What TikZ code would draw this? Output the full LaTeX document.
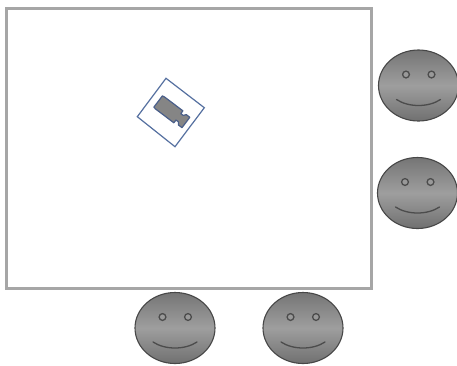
\documentclass[tikz,border=0pt]{standalone}
\definecolor{framegrey}{HTML}{A6A6A6}
\definecolor{camblue}{HTML}{5570A0}
\definecolor{camedge}{HTML}{4A5F8A}
\begin{document}
\begin{tikzpicture}[x=1pt,y=-1pt,
  facebody/.style={draw=black!72,line width=1.1pt,top color=black!54,bottom color=black!56,middle color=black!38},
  faceline/.style={draw=black!70,line width=1.3pt,line cap=round},
  eye/.style={draw=black!70,line width=1.3pt,fill=black!40},
  smiley/.pic={
    \path[facebody] (0,0) ellipse [x radius=40,y radius=35.5];
    \path[eye] (-12.5,-11) circle [radius=3.4];
    \path[eye] (13,-11) circle [radius=3.4];
    \draw[faceline] (-22,14) .. controls (-10,22) and (10,22) .. (22,14);
  }]
\useasboundingbox (0,0) rectangle (457,365);
\fill[white] (0,0) rectangle (457,365);
\draw[draw=framegrey,line width=3pt] (6,8) rectangle (371,288);
\draw[draw=camblue,line width=1.2pt,fill=white] (166,78.3) -- (204.3,107.7) -- (175,146.7) -- (137.3,116.7) -- cycle;
\draw[draw=camedge,line width=1.2pt,fill=black!48,line join=round,shift={(172,112)},rotate=-37]
  (-17.4,-7) -- (-15,-7.5) -- (8,-7.5) -- (8,-4) -- (11,-4) -- (13,-6.5) -- (17.4,-6.5) -- (17.4,6.5) -- (13,6.5) -- (11,4) -- (8,4) -- (8,7.5) -- (-15,7.5) -- (-17.4,7) -- cycle;
\pic at (418.5,85.5) {smiley};
\pic at (417.5,193) {smiley};
\pic at (175,328) {smiley};
\pic at (303,328) {smiley};
\end{tikzpicture}
\end{document}
